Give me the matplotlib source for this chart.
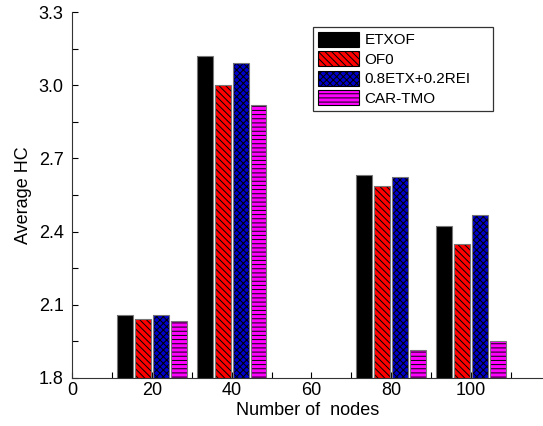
import matplotlib.pyplot as plt
from matplotlib.patches import Patch
import numpy as np

plt.rcParams['font.family'] = ['Liberation Sans', 'DejaVu Sans']
plt.rcParams['hatch.linewidth'] = 0.7

nodes = [20, 40, 80, 100]
series = ['ETXOF', 'OF0', '0.8ETX+0.2REI', 'CAR-TMO']
etxof = [2.06, 3.12, 2.63, 2.425]
of0 = [2.04, 3.00, 2.585, 2.35]
etx_rei = [2.06, 3.09, 2.625, 2.47]
car_tmo = [2.035, 2.92, 1.915, 1.95]

colors = ['black', '#ff0000', '#0000cc', '#ff00ff']
hatches = ['', '\\\\\\\\\\', 'xxxxx', '----']
offsets = [-6.75, -2.25, 2.25, 6.75]
width = 3.95

fig = plt.figure(figsize=(5.43, 4.26), dpi=100)
ax = fig.add_axes([72/543, 48/426, 471/543, 366/426])

x = np.array(nodes, dtype=float)
handles = []
for vals, c, h, off, name in zip([etxof, of0, etx_rei, car_tmo], colors, hatches, offsets, series):
    ax.bar(x + off, vals, width=width, bottom=0, color=c, hatch=h,
           edgecolor='black', linewidth=0, zorder=2)
    ax.bar(x + off, vals, width=width, bottom=0, fill=False,
           edgecolor='#777777', linewidth=0.8, zorder=3)
    handles.append(Patch(facecolor=c, hatch=h, edgecolor='black', linewidth=0.8, label=name))

ax.set_xlim(0, 118)
ax.set_ylim(1.8, 3.3)
ax.set_xticks([0, 20, 40, 60, 80, 100])
ax.set_xticks([10, 30, 50, 70, 90, 110], minor=True)
ax.set_yticks([1.8, 2.1, 2.4, 2.7, 3.0, 3.3])
ax.set_yticks([1.95, 2.25, 2.55, 2.85, 3.15], minor=True)
ax.set_yticklabels(['1.8', '2.1', '2.4', '2.7', '3.0', '3.3'])
ax.tick_params(which='both', direction='in', length=4, width=0.8, labelsize=13)
ax.tick_params(axis='x', pad=3)
ax.tick_params(axis='y', pad=6)
ax.spines['top'].set_visible(False)
ax.spines['right'].set_visible(False)
for s in ['left', 'bottom']:
    ax.spines[s].set_color('#333333')
    ax.spines[s].set_zorder(4)

ax.set_xlabel('Number of  nodes', fontsize=13, labelpad=2)
ax.set_ylabel('Average HC', fontsize=13, labelpad=5)

leg = ax.legend(handles=handles, loc='upper left', bbox_to_anchor=(0.512, 0.759, 0.382, 0.2),
                mode='expand', borderaxespad=0, fancybox=False, fontsize=11,
                handlelength=2.7, handleheight=1.15, labelspacing=0.25, handletextpad=0.35,
                borderpad=0.3, framealpha=1)
leg.get_frame().set_edgecolor('#333333')
leg.get_frame().set_linewidth(0.9)

fig.savefig('out.png', dpi=100)
